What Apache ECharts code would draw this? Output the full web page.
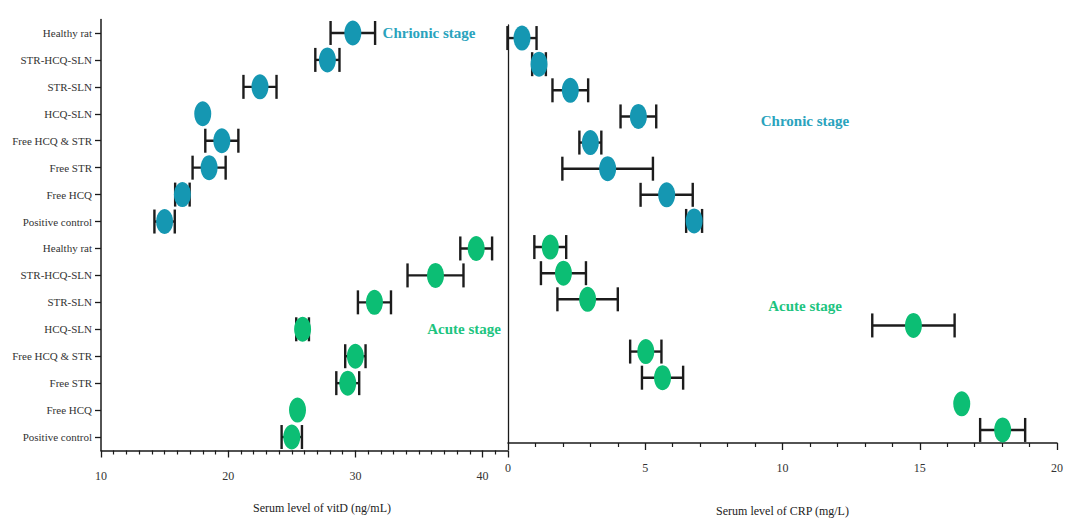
<!DOCTYPE html>
<html>
<head>
<meta charset="utf-8">
<script src="https://cdn.jsdelivr.net/npm/echarts@6/dist/echarts.min.js"></script>
<style>
html,body{margin:0;padding:0;background:#fff;}
#chart{width:1075px;height:522px;}
</style>
</head>
<body>
<div id="chart"></div>
<script>
// Groups, listed top to bottom as in the figure
const groups = ['Healthy rat','STR-HCQ-SLN','STR-SLN','HCQ-SLN','Free HCQ & STR','Free STR','Free HCQ','Positive control'];

// Serum vitD (ng/mL): mean and error
const vitdChronic   = [29.8, 27.8, 22.5, 18.0, 19.5, 18.5, 16.4, 15.0];
const vitdChronicSD = [1.75, 0.95, 1.3, 0, 1.3, 1.3, 0.57, 0.8];
const vitdAcute     = [39.5, 36.3, 31.5, 25.85, 30.0, 29.4, 25.45, 25.0];
const vitdAcuteSD   = [1.25, 2.2, 1.3, 0.5, 0.8, 0.9, 0, 0.8];

// Serum CRP (mg/L): mean and error
const crpChronic    = [0.51, 1.13, 2.27, 4.75, 3.0, 3.63, 5.78, 6.78];
const crpChronicSD  = [0.53, 0.25, 0.65, 0.65, 0.4, 1.65, 0.95, 0.29];
const crpAcute      = [1.54, 2.02, 2.9, 14.77, 5.02, 5.63, 16.53, 18.02];
const crpAcuteSD    = [0.58, 0.82, 1.1, 1.5, 0.57, 0.75, 0, 0.82];

// Axis ticks
const vitdTicks = {min: 10, max: 42, interval: 10};
const crpTicks  = {min: 0, max: 20, interval: 5};

const TEAL = '#1597B2';
const GREEN = '#0CBE74';
const SERIF = '"Liberation Serif", "Times New Roman", serif';

// Category axis rows: bottom-to-top (acute block at bottom, chronic block at top)
const rows = groups.slice().reverse().concat(groups.slice().reverse());
const n = groups.length;
function rowIndex(i, stage) { return stage === 'acute' ? (n - 1 - i) : (2 * n - 1 - i); }

function points(vals, stage) { return vals.map((v, i) => [v, rowIndex(i, stage)]); }
function bars(vals, sds, stage) {
  const out = [];
  vals.forEach((v, i) => { if (sds[i] > 0) out.push([rowIndex(i, stage), v - sds[i], v + sds[i]]); });
  return out;
}

function errRender(params, api) {
  const y = api.value(0);
  const p1 = api.coord([api.value(1), y]);
  const p2 = api.coord([api.value(2), y]);
  const h = 12;
  const st = {stroke: '#1c1c1c', lineWidth: 2.4};
  return {type: 'group', children: [
    {type: 'line', shape: {x1: p1[0], y1: p1[1], x2: p2[0], y2: p2[1]}, style: st},
    {type: 'line', shape: {x1: p1[0], y1: p1[1] - h, x2: p1[0], y2: p1[1] + h}, style: st},
    {type: 'line', shape: {x1: p2[0], y1: p2[1] - h, x2: p2[0], y2: p2[1] + h}, style: st}
  ]};
}

function errSeries(data, axisIdx) {
  return {type: 'custom', xAxisIndex: axisIdx, yAxisIndex: axisIdx, renderItem: errRender,
    encode: {x: [1, 2], y: 0}, data: data, z: 2, silent: true};
}
function dotSeries(data, axisIdx, color) {
  return {type: 'scatter', xAxisIndex: axisIdx, yAxisIndex: axisIdx, data: data,
    symbol: 'circle', symbolSize: [17, 25], itemStyle: {color: color, opacity: 1}, z: 5, silent: true};
}

const axisLineStyle = {color: '#1a1a1a', width: 1.5};
const tickLabel = {fontFamily: SERIF, fontSize: 12, color: '#333'};

const chart = echarts.init(document.getElementById('chart'), null, {renderer: 'svg'});
chart.setOption({
  animation: false,
  backgroundColor: '#fff',
  grid: [
    {left: 101, top: 19.5, width: 407, height: 431},
    {left: 508, top: 25, width: 549, height: 425.5}
  ],
  xAxis: [
    {gridIndex: 0, type: 'value', min: vitdTicks.min, max: vitdTicks.max, interval: vitdTicks.interval,
      splitLine: {show: false},
      axisLine: {show: true, lineStyle: axisLineStyle},
      axisTick: {show: true, length: 7, lineStyle: {color: '#1a1a1a', width: 1.3}},
      minorTick: {show: true, splitNumber: 10, length: 4, lineStyle: {color: '#1a1a1a', width: 1.2}},
      axisLabel: Object.assign({margin: 19, showMaxLabel: false}, tickLabel)},
    {gridIndex: 1, type: 'value', min: crpTicks.min, max: crpTicks.max, interval: crpTicks.interval,
      splitLine: {show: false},
      axisLine: {show: true, lineStyle: axisLineStyle},
      axisTick: {show: true, length: 7, lineStyle: {color: '#1a1a1a', width: 1.3}},
      minorTick: {show: true, splitNumber: 5, length: 4, lineStyle: {color: '#1a1a1a', width: 1.2}},
      axisLabel: Object.assign({margin: 19}, tickLabel),
      name: 'Serum level of CRP (mg/L)', nameLocation: 'middle', nameGap: 62,
      nameTextStyle: {fontFamily: SERIF, fontSize: 12, color: '#222'}}
  ],
  yAxis: [
    {gridIndex: 0, type: 'category', data: rows,
      axisLine: {show: true, lineStyle: axisLineStyle},
      axisTick: {show: true, alignWithLabel: true, length: 6, lineStyle: {color: '#1a1a1a', width: 1.3}},
      axisLabel: {margin: 9, interval: 0, fontFamily: SERIF, fontSize: 11, color: '#333'},
      splitLine: {show: false}},
    {gridIndex: 1, type: 'category', data: rows,
      axisLine: {show: true, lineStyle: {color: '#1a1a1a', width: 1.3}},
      axisTick: {show: false}, axisLabel: {show: false}, splitLine: {show: false}}
  ],
  graphic: [
    {type: 'text', x: 322, y: 508, style: {text: 'Serum level of vitD (ng/mL)', font: '12px ' + SERIF, fill: '#222', textAlign: 'center', textVerticalAlign: 'middle'}},
    {type: 'text', x: 429, y: 33, style: {text: 'Chrionic stage', font: 'bold 15px ' + SERIF, fill: '#2AA3BD', textAlign: 'center', textVerticalAlign: 'middle'}},
    {type: 'text', x: 464, y: 329, style: {text: 'Acute stage', font: 'bold 15px ' + SERIF, fill: '#1DC47F', textAlign: 'center', textVerticalAlign: 'middle'}},
    {type: 'text', x: 805, y: 121, style: {text: 'Chronic stage', font: 'bold 15px ' + SERIF, fill: '#2AA3BD', textAlign: 'center', textVerticalAlign: 'middle'}},
    {type: 'text', x: 805, y: 306, style: {text: 'Acute stage', font: 'bold 15px ' + SERIF, fill: '#1DC47F', textAlign: 'center', textVerticalAlign: 'middle'}}
  ],
  series: [
    errSeries(bars(vitdChronic, vitdChronicSD, 'chronic'), 0),
    errSeries(bars(vitdAcute, vitdAcuteSD, 'acute'), 0),
    errSeries(bars(crpChronic, crpChronicSD, 'chronic'), 1),
    errSeries(bars(crpAcute, crpAcuteSD, 'acute'), 1),
    dotSeries(points(vitdChronic, 'chronic'), 0, TEAL),
    dotSeries(points(vitdAcute, 'acute'), 0, GREEN),
    dotSeries(points(crpChronic, 'chronic'), 1, TEAL),
    dotSeries(points(crpAcute, 'acute'), 1, GREEN)
  ]
});
</script>
</body>
</html>
